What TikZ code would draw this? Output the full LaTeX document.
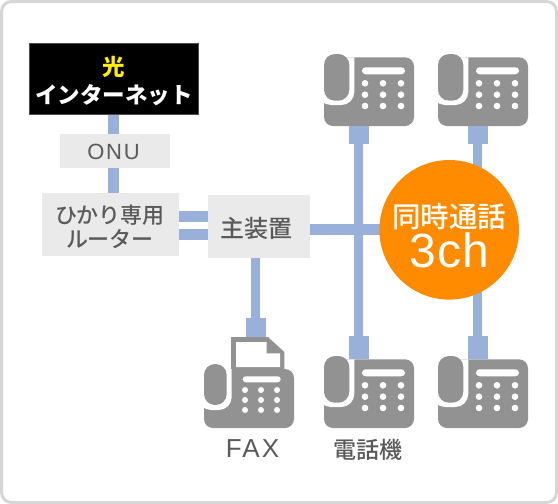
\documentclass[tikz,border=0pt]{standalone}
\usepackage{fontspec}
\usepackage{xcolor}
\usepackage{tikz}
\usetikzlibrary{positioning,backgrounds}
\setmainfont{Noto Sans CJK JP}
\setsansfont{Liberation Sans}
\newfontfamily\jpmed{Noto Sans CJK JP Medium}
\definecolor{cable}{HTML}{99B1DA}
\definecolor{panel}{HTML}{EAEAEA}
\definecolor{icon}{HTML}{929292}
\definecolor{ink}{HTML}{5A5A5A}
\definecolor{badge}{HTML}{FF8C00}
\definecolor{rim}{HTML}{D6D6D6}
\definecolor{glow}{HTML}{FFF000}
\begin{document}
\begin{tikzpicture}[
    x=1pt,y=-1pt,
    box/.style={fill=panel,text=ink,inner sep=0pt,align=center,font=\fontsize{22}{24}\selectfont\jpmed},
    plug/.style={fill=cable,minimum width=20pt,inner sep=0pt,outer sep=0pt},
    wire/.style={draw=cable,line width=9.3pt},
    trunk/.style={draw=cable,line width=10.7pt},
    caption/.style={text=ink,inner sep=0pt},
    telephone/.pic={
      \fill[icon,rounded corners=9pt] (0,3.3) rectangle (90,72);
      \fill[white] (-6,3.3) -- (30.3,3.3) [rounded corners=13pt] -- (30.3,51) -- (-6,51) -- cycle;
      \fill[icon,rounded corners=11pt] (0,0) rectangle (25.3,46.7);
      \fill[white,rounded corners=3.5pt] (38,13.3) rectangle (81,20.3);
      \foreach \px in {41,59,77} \foreach \py in {29.3,40.7,52} \fill[white] (\px,\py) circle (3.3pt);
    },
    faxset/.pic={
      \fill[icon,rounded corners=9pt] (0,32) rectangle (90,91);
      \fill[icon] (27,0) -- (64,0) -- (80.3,15) -- (80.3,40) -- (27,40) -- cycle;
      \fill[white] (32,5) -- (62.7,5) -- (62.7,16.3) -- (76,16.3) -- (76,30) -- (32,30) -- cycle;
      \fill[white] (-6,32) -- (27.7,32) [rounded corners=13pt] -- (27.7,73) -- (-6,73) -- cycle;
      \fill[icon,rounded corners=11pt] (0,27) rectangle (22.7,68);
      \fill[white,rounded corners=3pt] (38.7,39.3) rectangle (76.7,45.3);
      \foreach \px in {41,57,73} \foreach \py in {53,63,73} \fill[white] (\px,\py) circle (3pt);
    }
  ]
    \useasboundingbox (0,0) rectangle (558,504);
    \node[fill=black,draw=black!70,line width=.5pt,minimum width=169pt,minimum height=71pt,inner sep=0pt,align=center,text=white,font=\fontsize{22.5}{28}\selectfont\bfseries] (net) at (113.8,78.5) {\rule{0pt}{24pt}{\color{glow}光}\\インターネット};
    \node[box,minimum width=110pt,minimum height=34pt,font=\fontsize{22}{24}\sffamily] (onu) at (115,151) {\hspace*{-3pt}\addfontfeature{LetterSpace=8}\rule{0pt}{18pt}ONU};
    \node[box,minimum width=137pt,minimum height=63pt] (router) at (110,224.5) {\rule{0pt}{23.5pt}ひかり専用\\ルーター};
    \node[box,minimum width=102pt,minimum height=63pt,font=\fontsize{24}{24}\selectfont\jpmed] (main) at (259,226.5) {\hspace*{-5pt}\rule{0pt}{23.5pt}主装置};
    \pic at (324,54) {telephone};
    \pic at (438,54) {telephone};
    \pic at (324,356) {telephone};
    \pic at (438,356) {telephone};
    \pic at (204,337) {faxset};
    \node[plug,minimum height=18.3pt] (pluga) at (358.5,135.2) {};
    \node[plug,minimum height=18.3pt] (plugb) at (477.7,135.2) {};
    \node[plug,minimum height=23.3pt] (plugc) at (358.5,347.65) {};
    \node[plug,minimum height=23.3pt] (plugd) at (477.7,347.65) {};
    \node[plug,minimum height=19pt] (plugf) at (255.7,327.5) {};
    \node[circle,fill=badge,minimum size=139.6pt,inner sep=0pt] (ch) at (449.2,229.8) {};
    \node[text=white,inner sep=0pt,align=center] (chtext) at ([yshift=-6pt]ch.center) {{\fontsize{28.5}{30}\selectfont\jpmed 同時通話}\\[2pt]{\fontsize{48}{44}\sffamily\addfontfeature{LetterSpace=3}3ch}};
    \node[caption,font=\fontsize{26}{24}\sffamily] (faxlabel) at (252.5,449) {\addfontfeature{LetterSpace=8}FAX};
    \node[caption,font=\fontsize{23}{24}\selectfont\jpmed] (tellabel) at (368,450) {電話機};
    \begin{scope}[on background layer]
      \draw[rim,line width=3pt,fill=white,rounded corners=10pt] (1.5,1.5) rectangle (556.5,502.5);
      \draw[trunk] (net.south) -- (net.south |- router.north);
      \draw[trunk] ([yshift=8pt]router.east) -- ([yshift=8pt]router.east -| main.west);
      \draw[trunk] ([yshift=-10pt]router.east) -- ([yshift=-10pt]router.east -| main.west);
      \draw[trunk] ([yshift=-3pt]main.east) -- ([yshift=-3pt]main.east -| ch.center);
      \draw[wire] (pluga) -- (plugc);
      \draw[wire] (plugb) -- (plugd);
      \draw[wire] (main.south -| plugf) -- (plugf);
    \end{scope}
  \end{tikzpicture}
\end{document}
